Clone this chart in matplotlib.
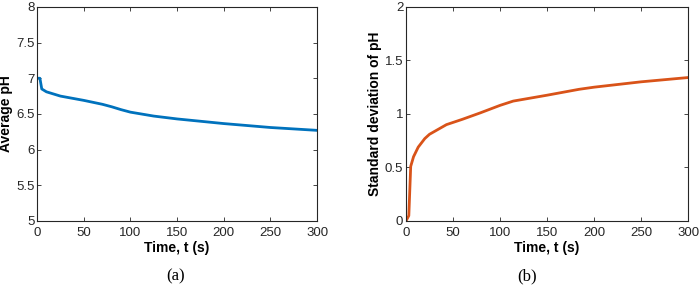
import matplotlib.pyplot as plt
import numpy as np

plt.rcParams['font.family'] = ['Liberation Sans', 'DejaVu Sans']

# average pH over time (panel a)
t_avg = [0, 3, 5, 10, 25, 50, 70, 80, 90, 100, 125, 150, 200, 250, 300]
ph_avg = [7.0, 7.0, 6.85, 6.81, 6.75, 6.69, 6.635, 6.6, 6.56, 6.525, 6.47, 6.43, 6.365, 6.31, 6.27]

# standard deviation of pH over time (panel b)
t_std = [0, 3, 5, 8, 13, 20, 25, 35, 43, 60, 79, 100, 114, 150, 184, 200, 250, 300]
ph_std = [0.0, 0.05, 0.51, 0.6, 0.69, 0.77, 0.81, 0.86, 0.9, 0.95, 1.01, 1.08, 1.12, 1.175, 1.23, 1.25, 1.30, 1.34]

blue = '#0072BD'
orange = '#D95319'

fig = plt.figure(figsize=(7, 2.87), dpi=100)
ax1 = fig.add_axes([0.053, 0.23, 0.4, 0.746])
ax2 = fig.add_axes([0.58, 0.23, 0.403, 0.746])

ax1.plot(t_avg, ph_avg, color=blue, lw=2)
ax1.set_xlim(0, 300)
ax1.set_ylim(5, 8)
ax1.set_yticks(np.arange(5, 8.01, 0.5))
ax1.set_yticklabels(['5', '5.5', '6', '6.5', '7', '7.5', '8'])
ax1.set_ylabel('Average pH', fontweight='bold', fontsize=10)
ax1.yaxis.set_label_coords(-0.086, 0.5)

ax2.plot(t_std, ph_std, color=orange, lw=2)
ax2.set_xlim(0, 300)
ax2.set_ylim(0, 2)
ax2.set_yticks([0, 0.5, 1, 1.5, 2])
ax2.set_yticklabels(['0', '0.5', '1', '1.5', '2'])
ax2.set_ylabel('Standard deviation of pH', fontweight='bold', fontsize=10)
ax2.yaxis.set_label_coords(-0.085, 0.5)

for ax in (ax1, ax2):
    ax.set_xticks(np.arange(0, 301, 50))
    ax.set_xlabel('Time, t (s)', fontweight='bold', fontsize=10, labelpad=2)
    ax.tick_params(direction='in', top=True, right=True, labelsize=9.5,
                   length=3, width=0.6, colors='#262626')
    ax.tick_params(axis='x', pad=4)
    ax.tick_params(axis='y', pad=2)
    for s in ax.spines.values():
        s.set_linewidth(0.8)
        s.set_color('#262626')

fig.text(176 / 700, 1 - 276 / 287, '(a)', ha='center', va='center',
         fontsize=12, family='Liberation Serif')
fig.text(527 / 700, 1 - 276 / 287, '(b)', ha='center', va='center',
         fontsize=12, family='Liberation Serif')

fig.savefig('out.png', dpi=100)
